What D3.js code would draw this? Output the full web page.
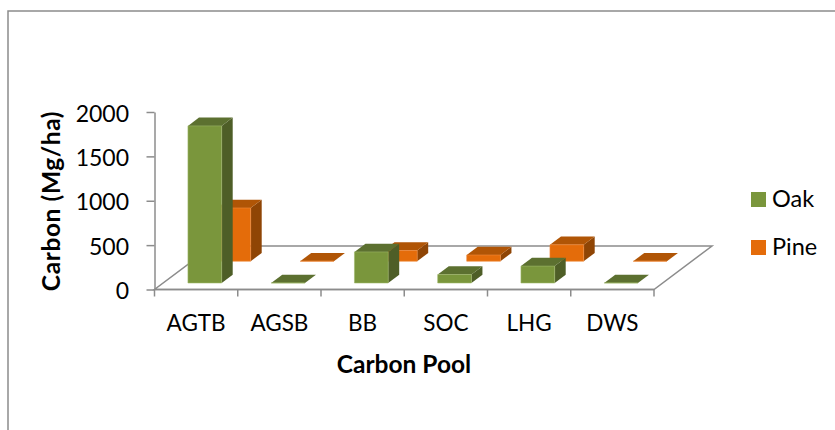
<!DOCTYPE html>
<html>
<head>
<meta charset="utf-8">
<script src="https://cdn.jsdelivr.net/npm/d3@7"></script>
<style>
  html, body { margin: 0; padding: 0; background: #fff; }
  svg { display: block; }
  svg text { font-family: Lato, "Noto Sans", sans-serif; }
</style>
</head>
<body>
<svg id="chart" width="835" height="430"></svg>
<script>
const categories = ['AGTB', 'AGSB', 'BB', 'SOC', 'LHG', 'DWS'];
const seriesNames = ['Oak', 'Pine'];
const oakValues = [1770, 0, 350, 95, 190, 0];
const pineValues = [600, 0, 120, 70, 185, 0];
const yTicks = [0, 500, 1000, 1500, 2000];

const svg = d3.select('#chart');
const axisColor = '#8c8c8c';

const colors = {
  Oak: { front: '#7a963c', top: '#5c7030', side: '#4e5e27', edge: '#9db568' },
  Pine: { front: '#e46c0a', top: '#b05506', side: '#8f4505', edge: '#f08a3a' }
};

let x = d3.scaleBand().domain(categories).range([154.5, 654]).paddingInner(0).paddingOuter(0);
let y = d3.scaleLinear().domain([0, 2000]).range([289.5, 112]);

// depth axis: 0 is the front of the floor, 1 the back wall
let z = d3.scaleLinear().domain([0, 1]).range([0, 1]);
const depthX = 58, depthY = 43.5;
const zStart = { Oak: 0.15, Pine: 0.65 };
const zSize = 0.19;
const barWidth = x.bandwidth() * 0.405;

function pt(px, v, depth) {
  return [px + z(depth) * depthX, y(v) - z(depth) * depthY];
}
function poly(points) {
  return points.map(p => p.join(',')).join(' ');
}

// chart frame, only top and left are inside the crop
svg.append('path')
  .attr('d', 'M8,430V11H835')
  .attr('fill', 'none')
  .attr('stroke', axisColor)
  .attr('stroke-width', 1.5);

// floor
let x0 = x.range()[0], x1 = x.range()[1];
svg.append('polygon')
  .attr('points', poly([pt(x0, 0, 0), pt(x1, 0, 0), pt(x1, 0, 1), pt(x0, 0, 1)]))
  .attr('fill', '#fff')
  .attr('stroke', axisColor)
  .attr('stroke-width', 1.5);

// bars, back series first so Oak sits over Pine
let viewport = svg.append('g');
[pineValues, oakValues].forEach((vals, i) => {
  let name = i === 0 ? 'Pine' : 'Oak';
  let c = colors[name];
  let z0 = zStart[name], z1 = z0 + zSize;
  let bars = viewport.append('g').selectAll('g')
    .data(categories.map((cat, j) => ({ cat: cat, v: vals[j] })))
    .enter().append('g');

  let left = d => x(d.cat) + (x.bandwidth() - barWidth) / 2;
  let right = d => left(d) + barWidth;

  bars.append('polygon')
    .attr('fill', c.side)
    .attr('points', d => poly([pt(right(d), 0, z0), pt(right(d), 0, z1), pt(right(d), d.v, z1), pt(right(d), d.v, z0)]));
  bars.append('polygon')
    .attr('fill', c.top)
    .attr('points', d => poly([pt(left(d), d.v, z0), pt(right(d), d.v, z0), pt(right(d), d.v, z1), pt(left(d), d.v, z1)]));
  bars.append('polygon')
    .attr('fill', c.front)
    .attr('stroke', c.edge)
    .attr('stroke-width', 0.6)
    .attr('points', d => poly([pt(left(d), 0, z0), pt(right(d), 0, z0), pt(right(d), d.v, z0), pt(left(d), d.v, z0)]));
});

// axes
let yAxis = d3.axisLeft(y).tickValues(yTicks).tickFormat(d3.format('d')).tickSize(8).tickPadding(17.5).tickSizeOuter(0);
let gy = svg.append('g').attr('transform', 'translate(154.5,0)').call(yAxis);
gy.attr('font-family', null);
gy.selectAll('path, line').attr('stroke', axisColor).attr('stroke-width', 1.5);
gy.selectAll('text').attr('font-size', 23).attr('fill', '#000').attr('dy', '0.4em');

let xAxis = d3.axisBottom(x).tickSize(0).tickPadding(26);
let gx = svg.append('g').attr('transform', 'translate(0,289.5)').call(xAxis);
gx.attr('font-family', null);
gx.select('path').remove();
gx.selectAll('text').attr('font-size', 22.5).attr('fill', '#000');

// ticks sit on the band edges, not the centres
svg.append('g').selectAll('line')
  .data(categories.map(c => x(c)).concat([x1]))
  .enter().append('line')
  .attr('x1', d => d).attr('x2', d => d)
  .attr('y1', 289.5).attr('y2', 296.5)
  .attr('stroke', axisColor).attr('stroke-width', 1.5);
svg.append('line')
  .attr('x1', x0).attr('x2', x1).attr('y1', 289.5).attr('y2', 289.5)
  .attr('stroke', axisColor).attr('stroke-width', 1.5);

// axis titles
svg.append('text')
  .attr('x', 404).attr('y', 373)
  .attr('text-anchor', 'middle')
  .attr('font-size', 24.5).attr('font-weight', 700)
  .text('Carbon Pool');
svg.append('text')
  .attr('transform', 'translate(60,201) rotate(-90)')
  .attr('text-anchor', 'middle')
  .attr('font-size', 24.5).attr('font-weight', 700)
  .attr('letter-spacing', 0.6)
  .text('Carbon (Mg/ha)');

// legend
let legend = svg.append('g').selectAll('g')
  .data(seriesNames)
  .enter().append('g')
  .attr('transform', (d, i) => `translate(751,${192 + i * 48})`);
legend.append('rect')
  .attr('width', 15).attr('height', 15)
  .attr('fill', d => colors[d].front);
legend.append('text')
  .attr('x', 21).attr('y', 15)
  .attr('font-size', 23.5)
  .text(d => d);
</script>
</body>
</html>
